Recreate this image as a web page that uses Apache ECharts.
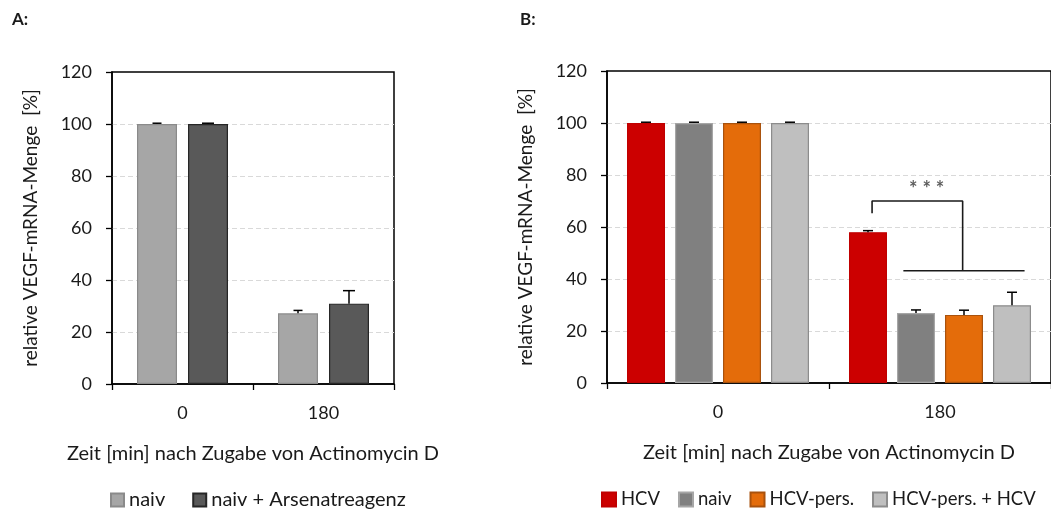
<!DOCTYPE html>
<html>
<head>
<meta charset="utf-8">
<script src="https://cdn.jsdelivr.net/npm/echarts@6/dist/echarts.min.js"></script>
<style>
html,body{margin:0;padding:0;background:#fff;}
#c{width:1051px;height:512px;}
</style>
</head>
<body>
<div id="c"></div>
<script>
// ---- data ----
const categories = ['0', '180'];
const yTicks = [0, 20, 40, 60, 80, 100, 120];
const xTitle = 'Zeit [min] nach Zugabe von Actinomycin D';
const yTitle = 'relative VEGF-mRNA-Menge  [%]';

// Panel A
const aNames = ['naiv', 'naiv + Arsenatreagenz'];
const aNaiv = [100, 27.2];
const aNaivErr = [0.3, 1.1];
const aArsen = [100, 30.9];
const aArsenErr = [0.3, 5.0];

// Panel B
const bNames = ['HCV', 'naiv', 'HCV-pers.', 'HCV-pers. + HCV'];
const bHcv = [100, 58.0];
const bHcvErr = [0.3, 0.6];
const bNaiv = [100, 26.9];
const bNaivErr = [0.3, 1.2];
const bPers = [100, 26.2];
const bPersErr = [0.3, 1.8];
const bPersHcv = [100, 29.9];
const bPersHcvErr = [0.3, 5.0];

// significance bracket (x in category units 0..2, y in %)
const bracketUpper = [[1.194, 65.3], [1.194, 70], [1.602, 70], [1.602, 43.2]];
const bracketLower = [[1.335, 43.2], [1.881, 43.2]];
const sigLabel = [[1.44, 74.5, '* * *']];

// ---- styling ----
const FONT = 'Lato';
const TXT = '#1a1a1a';
const A_BW = 40, A_GAP = 11;
const B_BW = 38, B_GAP = 10;

function errSeries(vals, errs, xi, yi, offset, capW) {
  return {
    type: 'custom', xAxisIndex: xi, yAxisIndex: yi, z: 10, silent: true,
    data: vals.map((v, i) => [i, v, errs[i]]),
    renderItem: function (params, api) {
      const c = api.value(0), v = api.value(1), e = api.value(2);
      const p0 = api.coord([c, v]);
      const p1 = api.coord([c, v + e]);
      const x = p0[0] + offset;
      const st = { stroke: '#000', lineWidth: 1.5 };
      return { type: 'group', children: [
        { type: 'line', shape: { x1: x, y1: p0[1], x2: x, y2: p1[1] }, style: st },
        { type: 'line', shape: { x1: x - capW / 2, y1: p1[1], x2: x + capW / 2, y2: p1[1] }, style: st }
      ]};
    }
  };
}

function yAxisCfg(gi) {
  return {
    gridIndex: gi, type: 'value', min: 0, max: 120, interval: 20,
    name: yTitle, nameLocation: 'middle', nameGap: 72, nameRotate: 90,
    nameTextStyle: { fontFamily: FONT, fontSize: 19, color: TXT },
    axisLine: { show: true, lineStyle: { color: '#000', width: 1.5 } },
    axisTick: { show: true, length: 6, lineStyle: { color: '#000', width: 1.3 } },
    axisLabel: { margin: 20, fontFamily: FONT, fontSize: 18, color: TXT },
    splitLine: { show: true, showMinLine: false, showMaxLine: false,
      lineStyle: { color: '#d9d9d9', type: [5, 3], width: 1.2 } }
  };
}
function xAxisCfg(gi) {
  return {
    gridIndex: gi, type: 'category', data: categories,
    name: xTitle, nameLocation: 'middle', nameGap: 60,
    nameTextStyle: { fontFamily: FONT, fontSize: 20, color: TXT },
    axisLine: { show: true, lineStyle: { color: '#000', width: 1.5 } },
    axisTick: { show: true, length: 6, lineStyle: { color: '#000', width: 1.3 } },
    axisLabel: { margin: 20, fontFamily: FONT, fontSize: 18, color: TXT }
  };
}

const chart = echarts.init(document.getElementById('c'), null, { renderer: 'canvas' });

const aColors = [
  { fill: '#a6a6a6', border: '#8a8a8a' },
  { fill: '#595959', border: '#262626' }
];
const bColors = [
  { fill: '#cc0000', border: '#c00000' },
  { fill: '#808080', border: '#a6a6a6' },
  { fill: '#e46c0a', border: '#a9520d' },
  { fill: '#bfbfbf', border: '#8c8c8c' }
];
const aVals = [aNaiv, aArsen];
const aErrs = [aNaivErr, aArsenErr];
const bVals = [bHcv, bNaiv, bPers, bPersHcv];
const bErrs = [bHcvErr, bNaivErr, bPersErr, bPersHcvErr];

const series = [];
aNames.forEach((n, i) => {
  series.push({ name: n, type: 'bar', xAxisIndex: 0, yAxisIndex: 0, data: aVals[i],
    barWidth: A_BW, barGap: (A_GAP / A_BW * 100) + '%',
    itemStyle: { color: aColors[i].fill, borderColor: aColors[i].border, borderWidth: 1.2 } });
});
aNames.forEach((n, i) => {
  series.push(errSeries(aVals[i], aErrs[i], 0, 0, (i - 0.5) * (A_BW + A_GAP), i === 0 ? 9 : 12));
});
bNames.forEach((n, i) => {
  series.push({ name: 'B ' + n, type: 'bar', xAxisIndex: 1, yAxisIndex: 1, data: bVals[i],
    barWidth: B_BW, barGap: (B_GAP / B_BW * 100) + '%',
    itemStyle: { color: bColors[i].fill, borderColor: bColors[i].border, borderWidth: 1.2 } });
});
bNames.forEach((n, i) => {
  series.push(errSeries(bVals[i], bErrs[i], 1, 1, (i - 1.5) * (B_BW + B_GAP), 10));
});
series.push({ type: 'line', xAxisIndex: 2, yAxisIndex: 1, data: bracketUpper, symbol: 'none',
  silent: true, lineStyle: { color: '#1a1a1a', width: 1.6 }, z: 12 });
series.push({ type: 'line', xAxisIndex: 2, yAxisIndex: 1, data: bracketLower, symbol: 'none',
  silent: true, lineStyle: { color: '#1a1a1a', width: 1.6 }, z: 12 });
series.push({ type: 'scatter', xAxisIndex: 2, yAxisIndex: 1, data: sigLabel, symbolSize: 0,
  silent: true, z: 12,
  label: { show: true, position: 'inside', formatter: p => p.data[2],
    fontFamily: FONT, fontSize: 20, fontWeight: 'bold', color: '#333' } });

chart.setOption({
  backgroundColor: '#fff',
  animation: false,
  textStyle: { fontFamily: FONT },
  grid: [
    { left: 112, top: 72, width: 282, height: 312, show: true, borderColor: '#000', borderWidth: 1.5 },
    { left: 607, top: 71, width: 454, height: 312, show: true, borderColor: '#000', borderWidth: 1.5 }
  ],
  xAxis: [ xAxisCfg(0), xAxisCfg(1),
    { gridIndex: 1, type: 'value', min: 0, max: 2, show: false } ],
  yAxis: [ yAxisCfg(0), yAxisCfg(1) ],
  legend: [
    { data: aNames, left: 110, top: 490, padding: 0, itemWidth: 13, itemHeight: 13, itemGap: 27,
      icon: 'rect', textStyle: { fontFamily: FONT, fontSize: 20, color: TXT } },
    { data: bNames.map(n => 'B ' + n), formatter: n => n.slice(2),
      left: 601, top: 490, width: 600, padding: 0, itemWidth: 14, itemHeight: 14, itemGap: 18,
      icon: 'rect', textStyle: { fontFamily: FONT, fontSize: 18.5, color: TXT } }
  ],
  graphic: [
    { type: 'text', left: 12, top: 11, style: { text: 'A:', fontFamily: FONT, fontWeight: 'bold', fontSize: 17, fill: TXT } },
    { type: 'text', left: 520, top: 11, style: { text: 'B:', fontFamily: FONT, fontWeight: 'bold', fontSize: 17, fill: TXT } }
  ],
  series: series
});
</script>
</body>
</html>
